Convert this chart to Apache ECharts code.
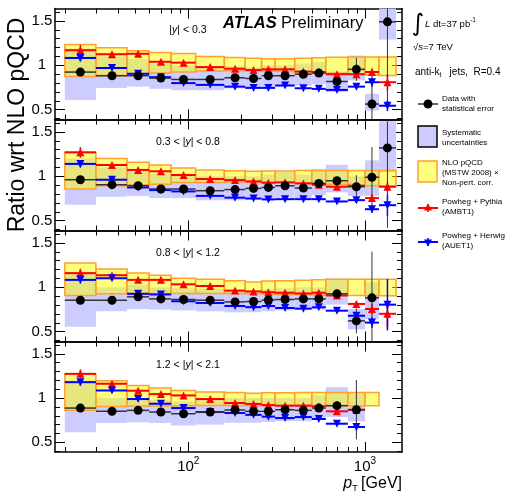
<!DOCTYPE html>
<html>
<head>
<meta charset="utf-8">
<script src="https://cdn.jsdelivr.net/npm/echarts@6.0.0/dist/echarts.min.js"></script>
<style>
html,body{margin:0;padding:0;background:#ffffff;}
#chart{width:507px;height:493px;}
</style>
</head>
<body>
<div id="chart"></div>
<script>
// ---------------- data ----------------
const binEdges   = [20, 30, 45, 60, 80, 110, 160, 210, 260, 310, 400, 500, 600, 800, 1000, 1200, 1500];
const binCenters = [24.5, 37, 52, 70, 94, 133, 184, 234, 284, 353, 448, 548, 694, 894, 1095, 1340];
const xMajorTicks = [100, 1000];
const xMinorTicks = [20, 30, 40, 50, 60, 70, 80, 90, 200, 300, 400, 500, 600, 700, 800, 900];
const yMajorTicks = [0.5, 1, 1.5];
const yMinorTicks = [0.4, 0.6, 0.7, 0.8, 0.9, 1.1, 1.2, 1.3, 1.4, 1.6];
const panelLabels = ['|{i|y}| < 0.3', '0.3 < |{i|y}| < 0.8', '0.8 < |{i|y}| < 1.2', '1.2 < |{i|y}| < 2.1'];

// |y| < 0.3
const dataP1      = [0.924, 0.883, 0.883, 0.856, 0.841, 0.841, 0.860, 0.852, 0.883, 0.883, 0.900, 0.913, 0.818, 0.955, 0.564, 1.490];
const dataErrP1   = [0.004, 0.004, 0.004, 0.004, 0.004, 0.005, 0.006, 0.008, 0.010, 0.012, 0.018, 0.025, 0.050, 0.130, 0.350, 0.900];
const sysLoP1     = [0.610, 0.745, 0.760, 0.735, 0.720, 0.720, 0.740, 0.735, 0.760, 0.760, 0.770, 0.790, 0.700, 0.830, 0.490, 1.290];
const sysHiP1     = [1.190, 1.100, 1.070, 1.020, 1.000, 0.990, 0.990, 0.980, 1.000, 1.000, 1.020, 1.040, 0.930, 1.110, 0.680, 1.700];
const nloLoP1     = [0.875, 0.886, 0.898, 0.913, 0.924, 0.935, 0.940, 0.940, 0.935, 0.930, 0.925, 0.920, 0.910, 0.900, 0.890, 0.885];
const nloHiP1     = [1.235, 1.197, 1.163, 1.144, 1.133, 1.100, 1.087, 1.080, 1.075, 1.075, 1.080, 1.085, 1.090, 1.095, 1.095, 1.095];
const pythiaP1    = [1.170, 1.125, 1.130, 1.040, 1.030, 0.980, 0.962, 0.947, 0.955, 0.955, 0.930, 0.925, 0.900, 0.900, 0.925, 0.810];
const pythiaErrP1 = [0.060, 0.015, 0.015, 0.015, 0.015, 0.012, 0.012, 0.012, 0.012, 0.012, 0.012, 0.015, 0.020, 0.030, 0.040, 0.090];
const herwigP1    = [1.083, 0.970, 0.905, 0.867, 0.800, 0.780, 0.760, 0.746, 0.746, 0.773, 0.742, 0.735, 0.723, 0.760, 0.810, 0.545];
const herwigErrP1 = [0.040, 0.015, 0.015, 0.015, 0.015, 0.012, 0.012, 0.012, 0.012, 0.012, 0.012, 0.015, 0.020, 0.030, 0.050, 0.060];

// 0.3 < |y| < 0.8
const dataP2      = [0.962, 0.906, 0.894, 0.857, 0.857, 0.838, 0.851, 0.864, 0.875, 0.894, 0.868, 0.920, 0.950, 0.883, 0.990, 1.320];
const dataErrP2   = [0.004, 0.004, 0.004, 0.004, 0.004, 0.005, 0.006, 0.008, 0.010, 0.012, 0.018, 0.025, 0.040, 0.130, 0.340, 0.900];
const sysLoP2     = [0.680, 0.770, 0.780, 0.755, 0.755, 0.730, 0.730, 0.740, 0.750, 0.760, 0.750, 0.790, 0.820, 0.780, 0.780, 1.045];
const sysHiP2     = [1.200, 1.100, 1.060, 1.030, 1.020, 1.000, 1.000, 1.000, 1.020, 1.050, 1.020, 1.080, 1.130, 1.000, 1.180, 1.620];
const nloLoP2     = [0.857, 0.894, 0.905, 0.910, 0.930, 0.930, 0.935, 0.935, 0.930, 0.930, 0.925, 0.920, 0.910, 0.900, 0.895, 0.890];
const nloHiP2     = [1.270, 1.200, 1.158, 1.128, 1.094, 1.070, 1.064, 1.057, 1.060, 1.060, 1.065, 1.065, 1.065, 1.065, 1.065, 1.065];
const pythiaP2    = [1.270, 1.128, 1.072, 1.057, 1.015, 0.970, 0.958, 0.943, 0.928, 0.932, 0.920, 0.906, 0.883, 0.894, 0.755, 0.883];
const pythiaErrP2 = [0.060, 0.015, 0.015, 0.015, 0.015, 0.012, 0.012, 0.012, 0.012, 0.012, 0.012, 0.015, 0.020, 0.030, 0.040, 0.050];
const herwigP2    = [1.140, 0.962, 0.875, 0.845, 0.830, 0.780, 0.760, 0.750, 0.740, 0.743, 0.743, 0.743, 0.717, 0.732, 0.630, 0.675];
const herwigErrP2 = [0.040, 0.015, 0.015, 0.015, 0.015, 0.012, 0.012, 0.012, 0.012, 0.012, 0.012, 0.015, 0.020, 0.030, 0.040, 0.120];

// 0.8 < |y| < 1.2
const dataP3      = [0.855, 0.855, 0.893, 0.870, 0.863, 0.855, 0.836, 0.840, 0.857, 0.863, 0.870, 0.870, 0.927, 0.622, 0.882];
const dataErrP3   = [0.004, 0.004, 0.004, 0.004, 0.004, 0.005, 0.006, 0.008, 0.010, 0.012, 0.018, 0.025, 0.040, 0.140, 0.520];
const sysLoP3     = [0.557, 0.730, 0.756, 0.750, 0.740, 0.730, 0.718, 0.720, 0.730, 0.740, 0.750, 0.750, 0.805, 0.527, 0.640];
const sysHiP3     = [1.150, 1.000, 1.030, 1.000, 0.990, 0.980, 0.960, 0.960, 0.980, 0.990, 1.000, 1.000, 1.100, 0.756, 1.060];
const nloLoP3     = [0.908, 0.927, 0.930, 0.930, 0.930, 0.930, 0.930, 0.930, 0.925, 0.920, 0.920, 0.915, 0.910, 0.908, 0.905, 0.905];
const nloHiP3     = [1.275, 1.206, 1.160, 1.137, 1.103, 1.092, 1.073, 1.060, 1.070, 1.075, 1.080, 1.085, 1.090, 1.092, 1.092, 1.092];
const pythiaP3    = [1.160, 1.137, 1.084, 1.084, 1.034, 1.015, 0.963, 0.954, 0.945, 0.939, 0.931, 0.939, 0.908, 0.813, 0.756, 0.702];
const pythiaErrP3 = [0.050, 0.015, 0.015, 0.015, 0.015, 0.012, 0.012, 0.012, 0.012, 0.012, 0.012, 0.015, 0.020, 0.030, 0.060, 0.150];
const herwigP3    = [1.084, 1.103, 0.927, 0.920, 0.843, 0.824, 0.790, 0.777, 0.790, 0.767, 0.760, 0.775, 0.737, 0.680, 0.603, 0.805];
const herwigErrP3 = [0.040, 0.015, 0.015, 0.015, 0.015, 0.012, 0.012, 0.012, 0.012, 0.012, 0.012, 0.015, 0.020, 0.030, 0.060, 0.290];

// 1.2 < |y| < 2.1
const dataP4      = [0.887, 0.850, 0.861, 0.842, 0.823, 0.842, 0.865, 0.850, 0.850, 0.868, 0.861, 0.887, 0.914, 0.868];
const dataErrP4   = [0.004, 0.004, 0.004, 0.004, 0.004, 0.005, 0.006, 0.008, 0.010, 0.012, 0.015, 0.020, 0.050, 0.335];
const sysLoP4     = [0.613, 0.718, 0.726, 0.718, 0.690, 0.700, 0.720, 0.720, 0.730, 0.740, 0.740, 0.760, 0.786, 0.737];
const sysHiP4     = [1.200, 1.000, 1.000, 0.980, 0.960, 0.980, 1.000, 1.000, 1.000, 1.000, 1.000, 1.030, 1.124, 1.064];
const nloLoP4     = [0.861, 0.906, 0.910, 0.910, 0.912, 0.915, 0.915, 0.915, 0.915, 0.915, 0.915, 0.915, 0.914, 0.914, 0.914];
const nloHiP4     = [1.274, 1.195, 1.143, 1.113, 1.086, 1.068, 1.064, 1.056, 1.060, 1.060, 1.062, 1.064, 1.064, 1.064, 1.064];
const pythiaP4    = [1.274, 1.162, 1.083, 1.045, 1.030, 0.989, 0.944, 0.934, 0.921, 0.914, 0.914, 0.906, 0.850, 0.868];
const pythiaErrP4 = [0.050, 0.015, 0.015, 0.015, 0.015, 0.012, 0.012, 0.012, 0.012, 0.012, 0.012, 0.015, 0.020, 0.030];
const herwigP4    = [1.180, 1.086, 0.989, 0.936, 0.887, 0.842, 0.831, 0.810, 0.790, 0.774, 0.785, 0.763, 0.710, 0.673];
const herwigErrP4 = [0.040, 0.015, 0.015, 0.015, 0.015, 0.012, 0.012, 0.012, 0.012, 0.012, 0.012, 0.015, 0.020, 0.030];

// ---------------- chart ----------------
const panels = [
  {data: dataP1, dataErr: dataErrP1, sysLo: sysLoP1, sysHi: sysHiP1, nloLo: nloLoP1, nloHi: nloHiP1, py: pythiaP1, pyErr: pythiaErrP1, hw: herwigP1, hwErr: herwigErrP1},
  {data: dataP2, dataErr: dataErrP2, sysLo: sysLoP2, sysHi: sysHiP2, nloLo: nloLoP2, nloHi: nloHiP2, py: pythiaP2, pyErr: pythiaErrP2, hw: herwigP2, hwErr: herwigErrP2},
  {data: dataP3, dataErr: dataErrP3, sysLo: sysLoP3, sysHi: sysHiP3, nloLo: nloLoP3, nloHi: nloHiP3, py: pythiaP3, pyErr: pythiaErrP3, hw: herwigP3, hwErr: herwigErrP3},
  {data: dataP4, dataErr: dataErrP4, sysLo: sysLoP4, sysHi: sysHiP4, nloLo: nloLoP4, nloHi: nloHiP4, py: pythiaP4, pyErr: pythiaErrP4, hw: herwigP4, hwErr: herwigErrP4}
];

const FONT = '"Liberation Sans", Arial, Helvetica, sans-serif';
const LAV = '#ccccff';
const YEL = 'rgba(255,255,0,0.5)';
const ORA = '#ffa030';
const X_MIN = 17.6, X_MAX = 1620, Y_MIN = 0.39, Y_MAX = 1.64;
const GRID_TOPS = [8.5, 119.5, 230.5, 341.5];
const GRID_H = 111, GRID_L = 55, GRID_W = 347;

function bandItems(lo, hi) {
  const out = [];
  lo.forEach((l, k) => { if (l != null) out.push([binEdges[k], binEdges[k + 1], l, hi[k]]); });
  return out;
}
function binItems(vals, errs) {
  const out = [];
  vals.forEach((v, k) => { if (v != null) out.push([binEdges[k], binEdges[k + 1], binCenters[k], v, errs[k]]); });
  return out;
}
function pointItems(vals) {
  const out = [];
  vals.forEach((v, k) => { if (v != null) out.push([binCenters[k], v]); });
  return out;
}
function clampY(y, cs) { return Math.min(Math.max(y, cs.y), cs.y + cs.height); }

function bandRender(fill, stroke, lw) {
  return function (params, api) {
    const cs = params.coordSys;
    const p1 = api.coord([api.value(0), api.value(3)]);
    const p2 = api.coord([api.value(1), api.value(2)]);
    const y1 = clampY(p1[1], cs), y2 = clampY(p2[1], cs);
    return {type: 'rect', shape: {x: p1[0], y: y1, width: p2[0] - p1[0], height: y2 - y1},
      style: {fill: fill, stroke: stroke, lineWidth: lw}};
  };
}
function binLineRender(color, hlw, vlw) {
  return function (params, api) {
    const cs = params.coordSys;
    const v = api.value(3), e = api.value(4);
    const a = api.coord([api.value(0), v]);
    const b = api.coord([api.value(1), v]);
    const t = api.coord([api.value(2), v + e]);
    const u = api.coord([api.value(2), v - e]);
    const children = [{type: 'line', shape: {x1: a[0], y1: a[1], x2: b[0], y2: b[1]}, style: {stroke: color, lineWidth: hlw}}];
    if (e > 0) children.push({type: 'line', shape: {x1: t[0], y1: clampY(t[1], cs), x2: u[0], y2: clampY(u[1], cs)}, style: {stroke: color, lineWidth: vlw}});
    return {type: 'group', children: children};
  };
}

function mkX(i, pos, ticks, len, showLine, showLabel) {
  const ax = {
    type: 'log', logBase: 10, gridIndex: i, position: pos, min: X_MIN, max: X_MAX,
    axisLine: {show: showLine, onZero: false, lineStyle: {color: '#000', width: 1.5}},
    axisTick: {show: true, inside: true, length: len, customValues: ticks, lineStyle: {color: '#000', width: 1}},
    axisLabel: {show: false},
    splitLine: {show: false}, minorTick: {show: false}, minorSplitLine: {show: false}
  };
  if (showLabel) {
    ax.axisLabel = {
      show: true, customValues: xMajorTicks, margin: 4,
      formatter: function (v) { return '{b|10}{s|' + Math.round(Math.log10(v)) + '}'; },
      rich: {
        b: {fontSize: 15, fontFamily: FONT, color: '#000', lineHeight: 22},
        s: {fontSize: 10, fontFamily: FONT, color: '#000', lineHeight: 10, verticalAlign: 'top'}
      }
    };
    ax.name = '{p|p}{t|T} {g|[GeV]}';
    ax.nameLocation = 'end';
    ax.nameGap = 0;
    ax.nameTextStyle = {
      align: 'right', verticalAlign: 'top', padding: [23, 0, 0, 0],
      rich: {
        p: {fontSize: 16, fontStyle: 'italic', fontFamily: FONT, color: '#000', lineHeight: 18},
        t: {fontSize: 9, fontFamily: FONT, color: '#000', lineHeight: 9, verticalAlign: 'bottom'},
        g: {fontSize: 16, fontFamily: FONT, color: '#000', lineHeight: 18}
      }
    };
  }
  return ax;
}
function mkY(i, pos, ticks, len, showLine, showLabel) {
  return {
    type: 'value', gridIndex: i, position: pos, min: Y_MIN, max: Y_MAX,
    axisLine: {show: showLine, onZero: false, lineStyle: {color: '#000', width: 1.5}},
    axisTick: {show: true, inside: true, length: len, customValues: ticks, lineStyle: {color: '#000', width: 1}},
    axisLabel: showLabel ? {show: true, customValues: yMajorTicks, fontSize: 15, fontFamily: FONT, color: '#000', align: 'center', margin: 13} : {show: false},
    splitLine: {show: false}, minorTick: {show: false}
  };
}

const grids = [], xAxes = [], yAxes = [], series = [];
panels.forEach(function (p, i) {
  grids.push({left: GRID_L, top: GRID_TOPS[i], width: GRID_W, height: GRID_H});
  xAxes.push(mkX(i, 'bottom', xMajorTicks, 10, true, i === 3));
  xAxes.push(mkX(i, 'bottom', xMinorTicks, 5, false, false));
  xAxes.push(mkX(i, 'top', xMajorTicks, 10, true, false));
  xAxes.push(mkX(i, 'top', xMinorTicks, 5, false, false));
  yAxes.push(mkY(i, 'left', yMajorTicks, 10, true, true));
  yAxes.push(mkY(i, 'left', yMinorTicks, 5, false, false));
  yAxes.push(mkY(i, 'right', yMajorTicks, 10, true, false));
  yAxes.push(mkY(i, 'right', yMinorTicks, 5, false, false));
  const ax = {xAxisIndex: 4 * i, yAxisIndex: 4 * i, silent: true, animation: false};
  series.push(Object.assign({type: 'custom', name: 'Systematic uncertainties', renderItem: bandRender(LAV, null, 0),
    encode: {x: [0, 1], y: [2, 3]}, data: bandItems(p.sysLo, p.sysHi)}, ax));
  series.push(Object.assign({type: 'custom', name: 'NLO pQCD', renderItem: bandRender(YEL, ORA, 1.5),
    encode: {x: [0, 1], y: [2, 3]}, data: bandItems(p.nloLo, p.nloHi)}, ax));
  series.push(Object.assign({type: 'custom', name: 'Powheg + Pythia', renderItem: binLineRender('#ff0000', 2, 1.5),
    encode: {x: [0, 1, 2], y: 3}, data: binItems(p.py, p.pyErr)}, ax));
  series.push(Object.assign({type: 'custom', name: 'Powheg + Herwig', renderItem: binLineRender('#0000ff', 2, 1.5),
    encode: {x: [0, 1, 2], y: 3}, data: binItems(p.hw, p.hwErr)}, ax));
  series.push(Object.assign({type: 'custom', name: 'Data', renderItem: binLineRender('#333333', 1.5, 1),
    encode: {x: [0, 1, 2], y: 3}, data: binItems(p.data, p.dataErr)}, ax));
  series.push(Object.assign({type: 'scatter', name: 'Powheg + Pythia', symbol: 'triangle', symbolSize: 8,
    itemStyle: {color: '#ff0000', opacity: 1}, data: pointItems(p.py)}, ax));
  series.push(Object.assign({type: 'scatter', name: 'Powheg + Herwig', symbol: 'triangle', symbolRotate: 180, symbolSize: 8,
    itemStyle: {color: '#0000ff', opacity: 1}, data: pointItems(p.hw)}, ax));
  series.push(Object.assign({type: 'scatter', name: 'Data', symbol: 'circle', symbolSize: 9,
    itemStyle: {color: '#000000', opacity: 1}, data: pointItems(p.data)}, ax));
});

function txt(x, y, text, size, extra) {
  return {type: 'text', x: x, y: y, silent: true, z: 100,
    style: Object.assign({text: text, fontSize: size, fontFamily: FONT, fill: '#000', align: 'left', verticalAlign: 'middle'}, extra || {})};
}
const LBL_Y = [30, 142, 253, 365];
const graphics = [];
panelLabels.forEach(function (t, i) {
  graphics.push(txt(188, LBL_Y[i], t, 10.5, {align: 'center',
    rich: {i: {fontSize: 10.5, fontStyle: 'italic', fontFamily: FONT, fill: '#000'}}}));
});
graphics.push(txt(18, 125, 'Ratio wrt NLO pQCD', 23, {align: 'center'}));
graphics[graphics.length - 1].rotation = Math.PI / 2;
graphics.push(txt(223, 23, 'ATLAS', 16.5, {fontWeight: 'bold', fontStyle: 'italic'}));
graphics.push(txt(281, 23, 'Preliminary', 16.5));
// luminosity / energy / algorithm
graphics.push(txt(418, 25, '\u222B', 24, {align: 'center', fontFamily: '"DejaVu Sans", sans-serif'}));
graphics.push(txt(425, 24, '{i|L} dt=37 pb{s|-1}', 9.5, {lineHeight: 14,
  rich: {i: {fontSize: 9.5, fontStyle: 'italic', fontFamily: FONT, fill: '#000', lineHeight: 14},
         s: {fontSize: 6.5, fontFamily: FONT, fill: '#000', lineHeight: 8, verticalAlign: 'top'}}}));
graphics.push(txt(413, 47, '\u221A{i|s}=7 TeV', 9.5, {rich: {i: {fontSize: 9.5, fontStyle: 'italic', fontFamily: FONT, fill: '#000'}}}));
graphics.push(txt(415, 72, 'anti-k{t|t}   jets,  R=0.4', 10, {lineHeight: 14,
  rich: {t: {fontSize: 6.5, fontFamily: FONT, fill: '#000', lineHeight: 8, verticalAlign: 'bottom'}}}));
// legend
graphics.push({type: 'line', z: 100, silent: true, shape: {x1: 418, y1: 104, x2: 438, y2: 104}, style: {stroke: '#333', lineWidth: 1.5}});
graphics.push({type: 'circle', z: 100, silent: true, shape: {cx: 428, cy: 104, r: 4.5}, style: {fill: '#000'}});
graphics.push({type: 'rect', z: 100, silent: true, shape: {x: 418, y: 126, width: 19, height: 21}, style: {fill: LAV, stroke: '#000', lineWidth: 1.5}});
graphics.push({type: 'rect', z: 100, silent: true, shape: {x: 418, y: 161, width: 19, height: 21}, style: {fill: YEL, stroke: ORA, lineWidth: 1.5}});
graphics.push({type: 'line', z: 100, silent: true, shape: {x1: 418, y1: 208, x2: 438, y2: 208}, style: {stroke: '#ff0000', lineWidth: 2}});
graphics.push({type: 'line', z: 100, silent: true, shape: {x1: 428, y1: 204, x2: 428, y2: 212}, style: {stroke: '#ff0000', lineWidth: 1.5}});
graphics.push({type: 'polygon', z: 100, silent: true, shape: {points: [[424, 210.5], [432, 210.5], [428, 203.5]]}, style: {fill: '#ff0000'}});
graphics.push({type: 'line', z: 100, silent: true, shape: {x1: 418, y1: 242, x2: 438, y2: 242}, style: {stroke: '#0000ff', lineWidth: 2}});
graphics.push({type: 'line', z: 100, silent: true, shape: {x1: 428, y1: 238, x2: 428, y2: 246}, style: {stroke: '#0000ff', lineWidth: 1.5}});
graphics.push({type: 'polygon', z: 100, silent: true, shape: {points: [[424, 239.5], [432, 239.5], [428, 246.5]]}, style: {fill: '#0000ff'}});
graphics.push(txt(442, 104, 'Data with\nstatistical error', 8, {lineHeight: 10}));
graphics.push(txt(442, 138, 'Systematic\nuncertainties', 8, {lineHeight: 10}));
graphics.push(txt(442, 173, 'NLO pQCD\n(MSTW 2008) \u00D7\nNon-pert. corr.', 8, {lineHeight: 10}));
graphics.push(txt(442, 207, 'Powheg + Pythia\n(AMBT1)', 8, {lineHeight: 10}));
graphics.push(txt(442, 241, 'Powheg + Herwig\n(AUET1)', 8, {lineHeight: 10}));

const chart = echarts.init(document.getElementById('chart'), null, {renderer: 'canvas'});
chart.setOption({
  animation: false,
  backgroundColor: '#ffffff',
  grid: grids,
  xAxis: xAxes,
  yAxis: yAxes,
  series: series,
  graphic: graphics
});
</script>
</body>
</html>
